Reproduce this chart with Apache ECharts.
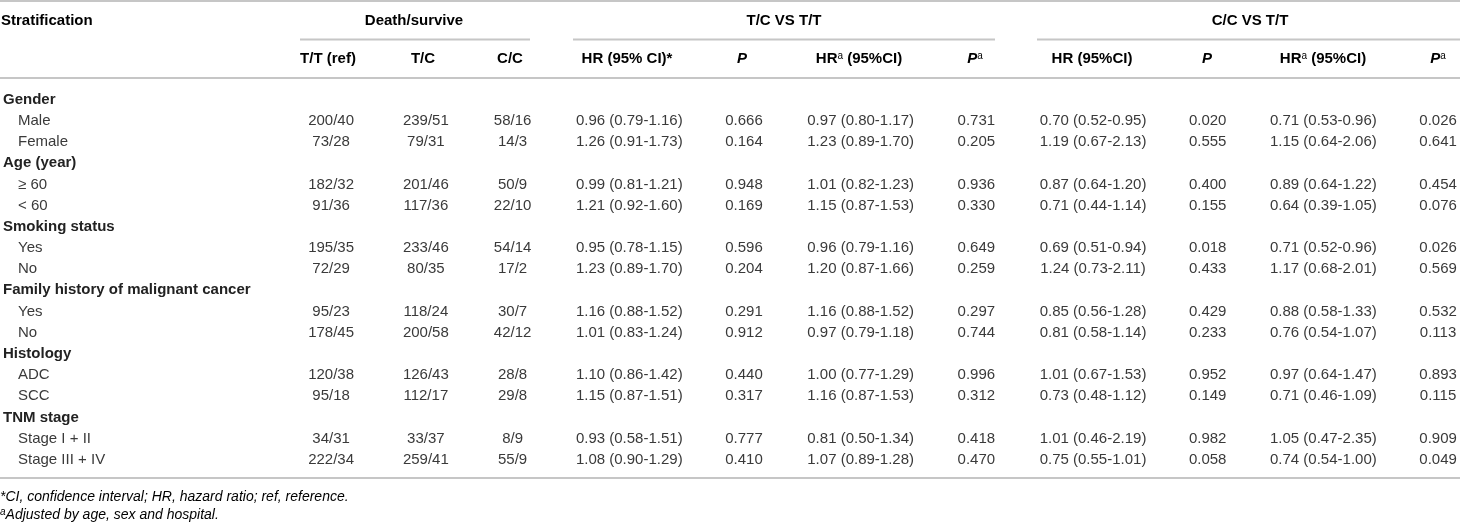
<!DOCTYPE html>
<html>
<head>
<meta charset="utf-8">
<script src="https://cdn.jsdelivr.net/npm/echarts@6/dist/echarts.min.js"></script>
<style>
  html, body { margin: 0; padding: 0; background: #fff; }
  #main { width: 1460px; height: 522px; }
</style>
</head>
<body>
<div id="main"></div>
<script>
// table content, one array per column
const rowLabels = [
  'Gender', 'Male', 'Female',
  'Age (year)', '≥ 60', '< 60',
  'Smoking status', 'Yes', 'No',
  'Family history of malignant cancer', 'Yes', 'No',
  'Histology', 'ADC', 'SCC',
  'TNM stage', 'Stage I + II', 'Stage III + IV'
];
const groupRows = [0, 3, 6, 9, 12, 15];

const ttRef = ['', '200/40', '73/28', '', '182/32', '91/36', '', '195/35', '72/29', '', '95/23', '178/45', '', '120/38', '95/18', '', '34/31', '222/34'];
const tc = ['', '239/51', '79/31', '', '201/46', '117/36', '', '233/46', '80/35', '', '118/24', '200/58', '', '126/43', '112/17', '', '33/37', '259/41'];
const cc = ['', '58/16', '14/3', '', '50/9', '22/10', '', '54/14', '17/2', '', '30/7', '42/12', '', '28/8', '29/8', '', '8/9', '55/9'];

const tcHR = ['', '0.96 (0.79-1.16)', '1.26 (0.91-1.73)', '', '0.99 (0.81-1.21)', '1.21 (0.92-1.60)', '', '0.95 (0.78-1.15)', '1.23 (0.89-1.70)', '', '1.16 (0.88-1.52)', '1.01 (0.83-1.24)', '', '1.10 (0.86-1.42)', '1.15 (0.87-1.51)', '', '0.93 (0.58-1.51)', '1.08 (0.90-1.29)'];
const tcP = ['', '0.666', '0.164', '', '0.948', '0.169', '', '0.596', '0.204', '', '0.291', '0.912', '', '0.440', '0.317', '', '0.777', '0.410'];
const tcHRadj = ['', '0.97 (0.80-1.17)', '1.23 (0.89-1.70)', '', '1.01 (0.82-1.23)', '1.15 (0.87-1.53)', '', '0.96 (0.79-1.16)', '1.20 (0.87-1.66)', '', '1.16 (0.88-1.52)', '0.97 (0.79-1.18)', '', '1.00 (0.77-1.29)', '1.16 (0.87-1.53)', '', '0.81 (0.50-1.34)', '1.07 (0.89-1.28)'];
const tcPadj = ['', '0.731', '0.205', '', '0.936', '0.330', '', '0.649', '0.259', '', '0.297', '0.744', '', '0.996', '0.312', '', '0.418', '0.470'];

const ccHR = ['', '0.70 (0.52-0.95)', '1.19 (0.67-2.13)', '', '0.87 (0.64-1.20)', '0.71 (0.44-1.14)', '', '0.69 (0.51-0.94)', '1.24 (0.73-2.11)', '', '0.85 (0.56-1.28)', '0.81 (0.58-1.14)', '', '1.01 (0.67-1.53)', '0.73 (0.48-1.12)', '', '1.01 (0.46-2.19)', '0.75 (0.55-1.01)'];
const ccP = ['', '0.020', '0.555', '', '0.400', '0.155', '', '0.018', '0.433', '', '0.429', '0.233', '', '0.952', '0.149', '', '0.982', '0.058'];
const ccHRadj = ['', '0.71 (0.53-0.96)', '1.15 (0.64-2.06)', '', '0.89 (0.64-1.22)', '0.64 (0.39-1.05)', '', '0.71 (0.52-0.96)', '1.17 (0.68-2.01)', '', '0.88 (0.58-1.33)', '0.76 (0.54-1.07)', '', '0.97 (0.64-1.47)', '0.71 (0.46-1.09)', '', '1.05 (0.47-2.35)', '0.74 (0.54-1.00)'];
const ccPadj = ['', '0.026', '0.641', '', '0.454', '0.076', '', '0.026', '0.569', '', '0.532', '0.113', '', '0.893', '0.115', '', '0.909', '0.049'];

const groupHeaders = ['Death/survive', 'T/C VS T/T', 'C/C VS T/T'];
// column headers, rich text markup for italics / superscripts
const colHeaders = [
  '{b|T/T (ref)}', '{b|T/C}', '{b|C/C}',
  '{b|HR (95% CI)*}', '{bi|P}', '{b|HR}{sup|a}{b| (95%CI)}', '{bi|P}{sup|a}',
  '{b|HR (95%CI)}', '{bi|P}', '{b|HR}{sup|a}{b| (95%CI)}', '{bi|P}{sup|a}'
];
const footnotes = [
  '{i|*CI, confidence interval; HR, hazard ratio; ref, reference.}',
  '{isup|a}{i|Adjusted by age, sex and hospital.}'
];

const columns = [ttRef, tc, cc, tcHR, tcP, tcHRadj, tcPadj, ccHR, ccP, ccHRadj, ccPadj];

// layout
const W = 1460;
const colX = [328, 423, 510, 627, 742, 859, 975, 1092, 1207, 1323, 1438];
const groupX = [414, 784, 1250];
const groupSpan = [[300, 530], [573, 995], [1037, 1460]];
const FONT = '"Liberation Sans", Arial, Helvetica, sans-serif';
const TEXT = '#3a3a3a';
const HEAD = '#222';
const RULE = '#c6c6c6';
const FS = 15;

const rich = {
  b: { fontFamily: FONT, fontSize: FS, fontWeight: 'bold', color: HEAD },
  bi: { fontFamily: FONT, fontSize: FS, fontWeight: 'bold', fontStyle: 'italic', color: HEAD },
  sup: { fontFamily: FONT, fontSize: 10, color: HEAD, verticalAlign: 'top', padding: [0, 0, 6, 0] },
  i: { fontFamily: FONT, fontSize: 14, fontStyle: 'italic', color: TEXT },
  isup: { fontFamily: FONT, fontSize: 10, fontStyle: 'italic', color: TEXT, verticalAlign: 'top', padding: [0, 0, 6, 0] }
};

const cells = [];
columns.forEach((col, c) => {
  col.forEach((txt, r) => {
    if (txt) cells.push({ c: c, r: r, text: txt });
  });
});

const graphic = [];
function rule(x1, x2, y) {
  graphic.push({ type: 'line', silent: true, shape: { x1: x1, y1: y, x2: x2, y2: y }, style: { stroke: RULE, lineWidth: 2 } });
}
rule(0, W, 1);
groupSpan.forEach(s => rule(s[0], s[1], 39.5));
rule(0, W, 78);
rule(0, W, 478);

graphic.push({ type: 'text', silent: true, style: { x: 1, y: 21, text: '{b|Stratification}', rich: rich, align: 'left', verticalAlign: 'middle' } });
groupHeaders.forEach((t, i) => {
  graphic.push({ type: 'text', silent: true, style: { x: groupX[i], y: 21, text: '{b|' + t + '}', rich: rich, align: 'center', verticalAlign: 'middle' } });
});
colHeaders.forEach((t, i) => {
  graphic.push({ type: 'text', silent: true, style: { x: colX[i], y: 59, text: t, rich: rich, align: 'center', verticalAlign: 'middle' } });
});
footnotes.forEach((t, i) => {
  graphic.push({ type: 'text', silent: true, style: { x: 0, y: 497 + i * 18, text: t, rich: rich, align: 'left', verticalAlign: 'middle' } });
});

const chart = echarts.init(document.getElementById('main'));
chart.setOption({
  animation: false,
  backgroundColor: '#fff',
  grid: { left: 0, right: 0, top: 89, bottom: 51.5, containLabel: false },
  xAxis: { type: 'value', min: 0, max: W, show: false },
  yAxis: {
    type: 'category',
    inverse: true,
    data: rowLabels.map((_, i) => String(i)),
    axisLine: { show: false },
    axisTick: { show: false },
    splitLine: { show: false },
    axisLabel: {
      inside: true,
      interval: 0,
      margin: -1,
      formatter: function (v, idx) {
        const i = Number(v);
        return groupRows.indexOf(i) >= 0 ? '{g|' + rowLabels[i] + '}' : '{s|' + rowLabels[i] + '}';
      },
      rich: {
        g: { fontFamily: FONT, fontSize: FS, fontWeight: 'bold', color: HEAD },
        s: { fontFamily: FONT, fontSize: FS, color: TEXT, padding: [0, 0, 0, 15] }
      }
    }
  },
  graphic: graphic,
  series: [{
    type: 'custom',
    silent: true,
    clip: false,
    data: cells.map(d => [colX[d.c], d.r]),
    renderItem: function (params, api) {
      const cell = cells[params.dataIndex];
      const pt = api.coord([api.value(0), api.value(1)]);
      return {
        type: 'text',
        x: pt[0],
        y: pt[1],
        style: {
          text: cell.text,
          align: 'center',
          verticalAlign: 'middle',
          fill: TEXT,
          fontSize: FS,
          fontFamily: FONT
        }
      };
    }
  }]
});
</script>
</body>
</html>
